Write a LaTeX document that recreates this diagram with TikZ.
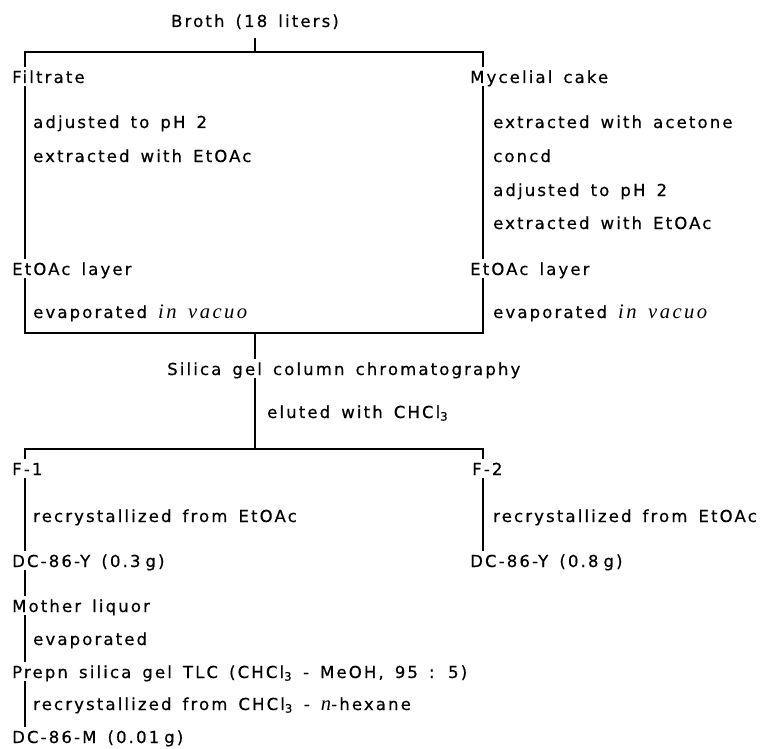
\documentclass[tikz,border=0pt]{standalone}
\usepackage{fontspec}
\setmainfont{DejaVu Sans}[LetterSpace=13, WordSpace=1.5, FakeBold=0.6]
\newfontfamily\serifit{Liberation Serif}[Scale=1.25, LetterSpace=12, WordSpace=1.5]
\usetikzlibrary{positioning}

\newcommand{\invacuo}{{\serifit\itshape in vacuo}}
\newcommand{\chcl}{CHCl\textsubscript{3}}

\begin{document}
\begin{tikzpicture}[x=1pt, y=-1pt,
  stage/.style={anchor=base west, inner sep=0pt, text height=16pt, text depth=3pt,
    font=\fontsize{16.5}{19}\selectfont},
  treat/.style={stage},
  link/.style={line width=1.2pt}]
  \useasboundingbox (0,0) rectangle (771,749);

  \coordinate (lx) at (25,0);
  \coordinate (rx) at (483,0);
  \coordinate (split1) at (255,52);
  \coordinate (split2) at (255,333);
  \coordinate (split3) at (255,449);

  \node[stage, anchor=base] (broth) at (255,27) {Broth (18 liters)};

  \node[stage] (filt) at (12,83) {Filtrate};
  \node[treat] (adjl) at (33,128) {adjusted to pH 2};
  \node[treat] (extl) at (33,162) {extracted with EtOAc};
  \node[stage] (etl) at (12,275) {EtOAc layer};
  \node[treat] (evl) at (33,318) {evaporated \invacuo};

  \node[stage] (myc) at (470,83) {Mycelial cake};
  \node[treat] (acet) at (493,128) {extracted with acetone};
  \node[treat] (concd) at (493,162) {concd};
  \node[treat] (adjr) at (493,196) {adjusted to pH 2};
  \node[treat] (extr) at (493,229) {extracted with EtOAc};
  \node[stage] (etr) at (470,275) {EtOAc layer};
  \node[treat] (evr) at (493,318) {evaporated \invacuo};

  \node[stage] (silica) at (167,375) {Silica gel column chromatography};
  \node[treat] (elut) at (267,418) {eluted with \chcl};

  \node[stage] (f1) at (12,475) {F-1};
  \node[treat] (recl) at (33,522) {recrystallized from EtOAc};
  \node[stage] (dc1) at (12,567) {DC-86-Y (0.3\hspace{5pt}g)};
  \node[stage] (f2) at (472,475) {F-2};
  \node[treat] (recr) at (493,522) {recrystallized from EtOAc};
  \node[stage] (dc2) at (470,567) {DC-86-Y (0.8\hspace{5pt}g)};

  \node[stage] (mother) at (12,612) {Mother liquor};
  \node[treat] (evap) at (33,645) {evaporated};
  \node[stage] (prepn) at (12,678) {Prepn silica gel TLC (\chcl{} - MeOH, 95 : 5)};
  \node[treat] (recm) at (33,710) {recrystallized from \chcl{} - {\serifit\itshape n}-hexane};
  \node[stage] (dcm) at (12,743) {DC-86-M (0.01\hspace{5pt}g)};

  \draw[link, shorten <=8pt] (broth.south) -- (split1);
  \draw[link] (filt.north -| lx) |- (split1) -| (myc.north -| rx);
  \draw[link] (filt.south -| lx) -- (etl.north -| lx);
  \draw[link] (myc.south -| rx) -- (etr.north -| rx);
  \draw[link] (etl.south -| lx) |- (split2) -| (etr.south -| rx);
  \draw[link] (split2) -- (silica.north -| split2);
  \draw[link] (silica.south -| split2) -- (split3);
  \draw[link] (f1.north -| lx) |- (split3) -| (f2.north -| rx);
  \draw[link] (f1.south -| lx) -- (dc1.north -| lx);
  \draw[link] (f2.south -| rx) -- (dc2.north -| rx);
  \draw[link] (dc1.south -| lx) -- (mother.north -| lx);
  \draw[link] (mother.south -| lx) -- (prepn.north -| lx);
  \draw[link] (prepn.south -| lx) -- (dcm.north -| lx);
\end{tikzpicture}
\end{document}
